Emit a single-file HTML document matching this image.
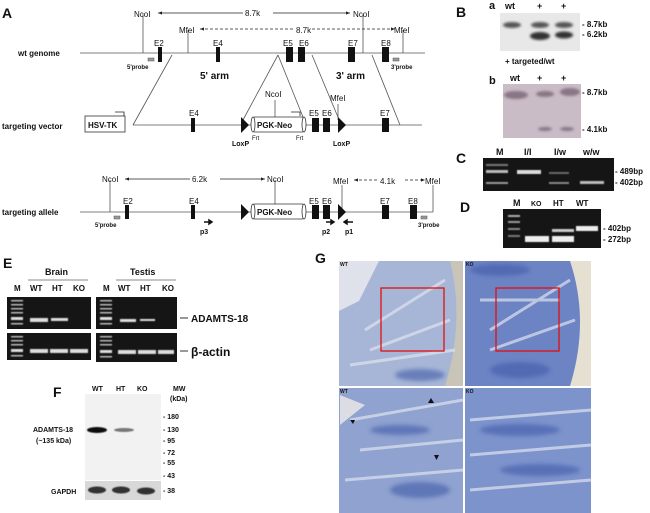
<!DOCTYPE html>
<html><head><meta charset="utf-8"><style>
html,body{margin:0;padding:0;background:#fff;width:650px;height:513px;overflow:hidden}
svg{display:block}
text{font-family:"Liberation Sans",Arial,sans-serif}
.b{font-weight:bold}
</style></head><body>
<svg width="650" height="513" viewBox="0 0 650 513" xmlns="http://www.w3.org/2000/svg">
<defs>
<marker id="ar" markerWidth="6" markerHeight="6" refX="5" refY="3" orient="auto"><path d="M0,1 L5,3 L0,5z" fill="#222"/></marker>
<marker id="al" markerWidth="6" markerHeight="6" refX="1" refY="3" orient="auto"><path d="M6,1 L1,3 L6,5z" fill="#222"/></marker>
<filter id="bl"><feGaussianBlur stdDeviation="1.2"/></filter>
<filter id="bl2"><feGaussianBlur stdDeviation="0.6"/></filter>
<filter id="bl3"><feGaussianBlur stdDeviation="2"/></filter>
</defs>
<g stroke="#555" stroke-width="0.8" fill="none">
<line x1="80" y1="53" x2="425" y2="53"/>
<line x1="143" y1="14" x2="143" y2="53"/><line x1="363" y1="14" x2="363" y2="53"/>
<line x1="188" y1="30" x2="188" y2="53"/><line x1="403" y1="30" x2="403" y2="53"/>
<line x1="158" y1="13" x2="243" y2="13" stroke="#222" marker-start="url(#al)"/>
<line x1="273" y1="13" x2="350" y2="13" stroke="#222" marker-end="url(#ar)"/>
<line x1="200" y1="29" x2="293" y2="29" stroke="#222" stroke-dasharray="3,2" marker-start="url(#al)"/>
<line x1="312" y1="29" x2="395" y2="29" stroke="#222" stroke-dasharray="3,2" marker-end="url(#ar)"/>
<line x1="172" y1="55" x2="133" y2="125"/>
<line x1="278" y1="55" x2="243" y2="120"/>
<line x1="278" y1="55" x2="305" y2="122"/>
<line x1="312" y1="55" x2="340" y2="122"/>
<line x1="372" y1="55" x2="400" y2="125"/>
<line x1="133" y1="125" x2="422" y2="125"/>
<line x1="275" y1="100" x2="275" y2="117"/>
<line x1="338" y1="104" x2="338" y2="120"/>
<path d="M124,116 V112 H115" stroke="#222"/>
<path d="M300,116 V112 H291" stroke="#222"/>
<line x1="80" y1="212" x2="433" y2="212"/>
<line x1="110" y1="180" x2="110" y2="212"/><line x1="275" y1="180" x2="275" y2="205"/>
<line x1="342" y1="185" x2="342" y2="212"/><line x1="433" y1="185" x2="433" y2="212"/>
<line x1="125" y1="179" x2="190" y2="179" stroke="#222" marker-start="url(#al)"/>
<line x1="220" y1="179" x2="265" y2="179" stroke="#222" marker-end="url(#ar)"/>
<line x1="354" y1="180" x2="378" y2="180" stroke="#222" stroke-dasharray="3,2" marker-start="url(#al)"/>
<line x1="405" y1="180" x2="425" y2="180" stroke="#222" stroke-dasharray="3,2" marker-end="url(#ar)"/>
</g>
<g fill="#111">
<rect x="158" y="47" width="4" height="15"/><rect x="216" y="47" width="4" height="15"/>
<rect x="286" y="47" width="7" height="15"/><rect x="298" y="47" width="7" height="15"/>
<rect x="348" y="47" width="7" height="15"/><rect x="382" y="47" width="7" height="15"/>
<rect x="191" y="118" width="4" height="14"/>
<rect x="312" y="118" width="7" height="14"/><rect x="323" y="118" width="7" height="14"/>
<rect x="382" y="118" width="7" height="14"/>
<path d="M241,117 L249,125 L241,133z"/><path d="M338,117 L346,125 L338,133z"/>
<rect x="125" y="205" width="4" height="14"/><rect x="191" y="205" width="4" height="14"/>
<rect x="312" y="205" width="7" height="14"/><rect x="323" y="205" width="7" height="14"/>
<rect x="382" y="205" width="7" height="14"/><rect x="410" y="205" width="7" height="14"/>
<path d="M241,204 L249,212 L241,220z"/><path d="M338,204 L346,212 L338,220z"/>
<path d="M204,222 H212 M212,222 l-3,-2 v4z" stroke="#111" stroke-width="1.5"/>
<path d="M326,222 H334 M334,222 l-3,-2 v4z" stroke="#111" stroke-width="1.5"/>
<path d="M344,222 H353 M344,222 l3,-2 v4z" stroke="#111" stroke-width="1.5"/>
</g>
<g fill="#999" stroke="#555" stroke-width="0.5">
<rect x="148" y="58" width="6" height="3"/><rect x="393" y="58" width="6" height="3"/>
<rect x="114" y="216" width="6" height="3"/><rect x="421" y="216" width="6" height="3"/>
</g>
<g fill="#fff" stroke="#333" stroke-width="0.8">
<rect x="85" y="116" width="40" height="16"/>
<rect x="253" y="117" width="51" height="15" rx="2"/>
<ellipse cx="253" cy="124.5" rx="2" ry="7.5"/><ellipse cx="304" cy="124.5" rx="2" ry="7.5"/>
<rect x="253" y="204" width="51" height="15" rx="2"/>
<ellipse cx="253" cy="211.5" rx="2" ry="7.5"/><ellipse cx="304" cy="211.5" rx="2" ry="7.5"/>
</g>
<g font-size="8" fill="#111">
<text x="2" y="18" class="b" font-size="14">A</text>
<text x="134" y="17">NcoI</text><text x="353" y="17">NcoI</text>
<text x="245" y="16">8.7k</text><text x="296" y="33">8.7k</text>
<text x="179" y="33">MfeI</text><text x="394" y="33">MfeI</text>
<text x="154" y="46">E2</text><text x="213" y="46">E4</text><text x="283" y="46">E5</text><text x="299" y="46">E6</text><text x="348" y="46">E7</text><text x="381" y="46">E8</text>
<text x="18" y="56" class="b">wt genome</text>
<text x="127" y="69" font-size="6" class="b">5'probe</text><text x="391" y="69" font-size="6" class="b">3'probe</text>
<text x="200" y="79" class="b" font-size="10">5' arm</text><text x="336" y="79" class="b" font-size="10">3' arm</text>
<text x="265" y="97">NcoI</text><text x="330" y="101">MfeI</text>
<text x="189" y="116">E4</text><text x="309" y="116">E5</text><text x="322" y="116">E6</text><text x="380" y="116">E7</text>
<text x="2" y="129" class="b">targeting vector</text>
<text x="88" y="128" class="b">HSV-TK</text>
<text x="257" y="128" class="b">PGK-Neo</text>
<text x="252" y="140" font-size="6">Frt</text><text x="296" y="140" font-size="6">Frt</text>
<text x="232" y="146" class="b" font-size="7">LoxP</text><text x="333" y="146" class="b" font-size="7">LoxP</text>
<text x="102" y="182">NcoI</text><text x="267" y="182">NcoI</text><text x="192" y="182">6.2k</text>
<text x="333" y="184">MfeI</text><text x="380" y="184">4.1k</text><text x="425" y="184">MfeI</text>
<text x="123" y="204">E2</text><text x="189" y="204">E4</text><text x="309" y="204">E5</text><text x="322" y="204">E6</text><text x="380" y="204">E7</text><text x="408" y="204">E8</text>
<text x="2" y="215" class="b">targeting allele</text>
<text x="257" y="215" class="b">PGK-Neo</text>
<text x="95" y="227" font-size="6" class="b">5'probe</text><text x="418" y="227" font-size="6" class="b">3'probe</text>
<text x="200" y="234" class="b" font-size="7">p3</text><text x="322" y="234" class="b" font-size="7">p2</text><text x="345" y="234" class="b" font-size="7">p1</text>
</g>
<g>
<rect x="500" y="13" width="80" height="38" fill="#e8e8e8"/>
<g filter="url(#bl)" fill="#555">
<ellipse cx="512" cy="25" rx="9" ry="3"/><ellipse cx="540" cy="25" rx="9" ry="3"/><ellipse cx="564" cy="25" rx="9" ry="3"/>
<ellipse cx="540" cy="36" rx="10" ry="4" fill="#333"/><ellipse cx="564" cy="35" rx="9" ry="3.5" fill="#333"/>
</g>
<rect x="503" y="84" width="78" height="54" fill="#c9bcc6"/>
<g filter="url(#bl)" fill="#8a7585">
<ellipse cx="516" cy="95" rx="12" ry="4"/><ellipse cx="545" cy="94" rx="9" ry="3"/><ellipse cx="570" cy="92" rx="10" ry="4"/>
<ellipse cx="545" cy="129" rx="7" ry="2"/><ellipse cx="567" cy="129" rx="7" ry="2"/>
</g>
<g font-size="9" fill="#111" font-weight="bold">
<text x="456" y="17" font-size="14">B</text><text x="489" y="9" font-size="11">a</text>
<text x="505" y="9">wt</text><text x="537" y="9">+</text><text x="561" y="9">+</text>
<text x="582" y="27" font-size="8">- 8.7kb</text><text x="582" y="37" font-size="8">- 6.2kb</text>
<text x="505" y="64" font-size="8">+ targeted/wt</text>
<text x="489" y="84" font-size="11">b</text><text x="510" y="81">wt</text><text x="537" y="81">+</text><text x="561" y="81">+</text>
<text x="582" y="95" font-size="8">- 8.7kb</text><text x="582" y="132" font-size="8">- 4.1kb</text>
</g>
</g>
<rect x="483" y="158" width="131" height="33" fill="#151515"/>
<g filter="url(#bl2)" fill="#ddd">
<rect x="486" y="164" width="22" height="2" fill="#777"/>
<rect x="486" y="170" width="22" height="3" fill="#bbb"/>
<rect x="486" y="182" width="22" height="2" fill="#999"/>
<rect x="517" y="170" width="24" height="4"/>
<rect x="549" y="172" width="20" height="2" fill="#666"/>
<rect x="549" y="182" width="20" height="2" fill="#888"/>
<rect x="580" y="181" width="24" height="3" fill="#bbb"/>
</g>
<g font-size="9" font-weight="bold" fill="#111">
<text x="456" y="163" font-size="14">C</text>
<text x="496" y="155">M</text><text x="524" y="155">I/I</text><text x="554" y="155">I/w</text><text x="583" y="155">w/w</text>
<text x="615" y="174" font-size="8">- 489bp</text><text x="615" y="185" font-size="8">- 402bp</text>
</g>
<rect x="503" y="209" width="98" height="39" fill="#151515"/>
<g filter="url(#bl2)" fill="#eee">
<rect x="508" y="215" width="12" height="2" fill="#aaa"/><rect x="508" y="221" width="12" height="2" fill="#999"/>
<rect x="508" y="228" width="12" height="2" fill="#888"/><rect x="508" y="235" width="12" height="2" fill="#777"/>
<rect x="525" y="236" width="24" height="6"/>
<rect x="552" y="229" width="22" height="3" fill="#ccc"/><rect x="552" y="236" width="22" height="6"/>
<rect x="576" y="226" width="22" height="5"/>
</g>
<g font-size="9" font-weight="bold" fill="#111">
<text x="460" y="212" font-size="14">D</text>
<text x="513" y="206">M</text><text x="531" y="206" font-size="7">KO</text><text x="553" y="206" font-size="8">HT</text><text x="576" y="206" font-size="8">WT</text>
<text x="603" y="231" font-size="8">- 402bp</text><text x="603" y="242" font-size="8">- 272bp</text>
</g>
<g>
<rect x="7" y="297" width="84" height="32" fill="#151515"/><rect x="7" y="333" width="84" height="27" fill="#151515"/>
<rect x="96" y="297" width="81" height="32" fill="#151515"/><rect x="96" y="333" width="81" height="29" fill="#151515"/>
<g filter="url(#bl2)" fill="#bbb">
<rect x="11" y="300" width="12" height="1.5"/><rect x="11" y="304" width="12" height="1.5"/><rect x="11" y="308" width="12" height="1.5"/><rect x="11" y="312" width="12" height="1.5"/><rect x="11" y="317" width="12" height="3" fill="#ddd"/><rect x="11" y="323" width="12" height="1.5"/>
<rect x="11" y="336" width="12" height="1.5"/><rect x="11" y="340" width="12" height="1.5"/><rect x="11" y="344" width="12" height="1.5"/><rect x="11" y="349" width="12" height="3" fill="#ddd"/><rect x="11" y="355" width="12" height="1.5"/>
<rect x="100" y="300" width="12" height="1.5"/><rect x="100" y="304" width="12" height="1.5"/><rect x="100" y="308" width="12" height="1.5"/><rect x="100" y="312" width="12" height="1.5"/><rect x="100" y="317" width="12" height="3" fill="#ddd"/><rect x="100" y="323" width="12" height="1.5"/>
<rect x="100" y="336" width="12" height="1.5"/><rect x="100" y="340" width="12" height="1.5"/><rect x="100" y="344" width="12" height="1.5"/><rect x="100" y="350" width="12" height="3" fill="#ddd"/><rect x="100" y="356" width="12" height="1.5"/>
</g>
<g filter="url(#bl2)" fill="#ddd">
<rect x="30" y="318" width="18" height="4"/><rect x="51" y="318" width="17" height="3"/>
<rect x="30" y="349" width="18" height="4"/><rect x="50" y="349" width="18" height="4"/><rect x="70" y="349" width="18" height="4"/>
<rect x="120" y="319" width="16" height="3"/><rect x="140" y="319" width="15" height="2"/>
<rect x="118" y="350" width="18" height="4"/><rect x="138" y="350" width="18" height="4"/><rect x="158" y="350" width="16" height="4"/>
</g>
<line x1="28" y1="280" x2="88" y2="280" stroke="#888"/><line x1="116" y1="280" x2="176" y2="280" stroke="#888"/>
<line x1="180" y1="318" x2="188" y2="318" stroke="#333"/><line x1="180" y1="351" x2="188" y2="351" stroke="#333"/>
<g font-size="8" font-weight="bold" fill="#111">
<text x="3" y="268" font-size="14">E</text>
<text x="45" y="275" font-size="9">Brain</text><text x="130" y="275" font-size="9">Testis</text>
<text x="14" y="291">M</text><text x="30" y="291">WT</text><text x="52" y="291">HT</text><text x="73" y="291">KO</text>
<text x="103" y="291">M</text><text x="118" y="291">WT</text><text x="140" y="291">HT</text><text x="162" y="291">KO</text>
<text x="191" y="322" font-size="10">ADAMTS-18</text><text x="191" y="356" font-size="12">β-actin</text>
</g>
</g>
<rect x="85" y="394" width="76" height="86" fill="#f2f2f2"/>
<rect x="85" y="481" width="76" height="19" fill="#d8d8d8"/>
<g filter="url(#bl2)" fill="#111">
<ellipse cx="97" cy="430" rx="10" ry="3"/><ellipse cx="124" cy="430" rx="10" ry="2" fill="#777"/>
<ellipse cx="97" cy="490" rx="9" ry="3.5" fill="#333"/><ellipse cx="121" cy="490" rx="9" ry="3.5" fill="#333"/><ellipse cx="146" cy="491" rx="9" ry="3.5" fill="#333"/>
</g>
<g font-size="7" font-weight="bold" fill="#111">
<text x="53" y="397" font-size="14">F</text>
<text x="92" y="391">WT</text><text x="116" y="391">HT</text><text x="137" y="391">KO</text>
<text x="173" y="391">MW</text><text x="170" y="401">(kDa)</text>
<text x="33" y="432">ADAMTS-18</text><text x="36" y="443">(~135 kDa)</text>
<text x="51" y="494">GAPDH</text>
<text x="163" y="419">- 180</text><text x="163" y="432">- 130</text><text x="163" y="443">- 95</text><text x="163" y="455">- 72</text><text x="163" y="465">- 55</text><text x="163" y="478">- 43</text><text x="163" y="493">- 38</text>
</g>
<g>
<rect x="339" y="261" width="124" height="125" fill="#a7b6d6"/>
<rect x="465" y="261" width="126" height="125" fill="#6c84c4"/>
<rect x="339" y="388" width="124" height="125" fill="#8fa2d0"/>
<rect x="465" y="388" width="126" height="125" fill="#7d93cc"/>
<path d="M339,261 h40 l-20,40 l-20,10z" fill="#dfe2ea"/>
<path d="M450,261 q15,60 -5,125 h18 v-125z" fill="#c8c4b8"/>
<path d="M570,261 q20,60 0,125 h21 v-125z" fill="#e6e0d2"/>
<path d="M340,395 l25,10 l-25,20z" fill="#dcdde4"/>
<g filter="url(#bl3)" fill="#3f5aa8" opacity=".6">
<ellipse cx="420" cy="375" rx="25" ry="6"/><ellipse cx="500" cy="270" rx="30" ry="6"/><ellipse cx="520" cy="370" rx="30" ry="8"/>
<ellipse cx="420" cy="490" rx="30" ry="8"/><ellipse cx="520" cy="430" rx="40" ry="6"/><ellipse cx="540" cy="470" rx="40" ry="6"/>
<ellipse cx="400" cy="430" rx="30" ry="5"/>
</g>
<g stroke="#dfe3f0" stroke-width="3" fill="none" opacity=".7">
<path d="M365,330 L445,280"/><path d="M370,350 L450,320"/><path d="M350,365 L455,350"/>
<path d="M490,330 L570,280"/><path d="M490,350 L575,320"/><path d="M480,300 L560,300"/>
<path d="M350,420 L463,400"/><path d="M360,450 L463,440"/><path d="M345,480 L463,470"/>
<path d="M470,420 L591,410"/><path d="M470,455 L591,445"/><path d="M470,490 L591,480"/>
</g>
<rect x="381" y="288" width="63" height="63" fill="none" stroke="#e01010" stroke-width="1.3"/>
<rect x="496" y="288" width="63" height="63" fill="none" stroke="#e01010" stroke-width="1.3"/>
<g fill="#111"><path d="M428,403 l3,-5 l3,5z"/><path d="M350,420 l5,0 l-2,4z"/><path d="M434,455 l5,0 l-2.5,5z"/></g>
<g font-size="5" font-weight="bold" fill="#111"><text x="340" y="266">WT</text><text x="466" y="266">KO</text><text x="340" y="393">WT</text><text x="466" y="393">KO</text></g>
<text x="315" y="263" font-size="14" font-weight="bold" fill="#111">G</text>
</g>
</svg>
</body></html>
